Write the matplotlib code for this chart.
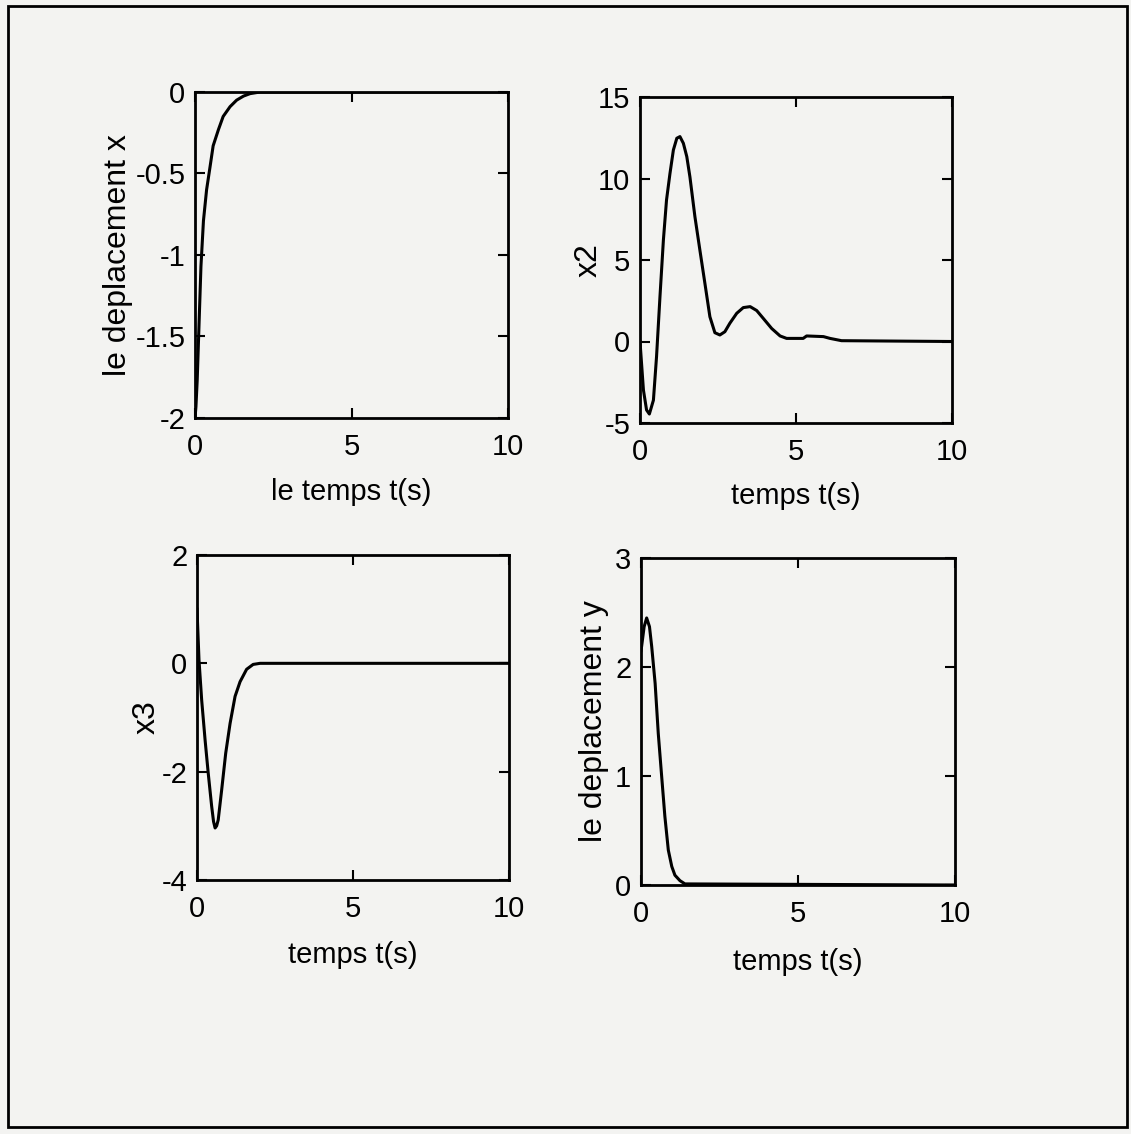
import matplotlib
matplotlib.use("Agg")
import matplotlib.pyplot as plt
import matplotlib.patches as patches

# values (time in s)
t_x = [0, 0.03, 0.07, 0.14, 0.19, 0.27, 0.37, 0.48, 0.58, 0.75, 0.9, 1.12,
       1.33, 1.55, 1.76, 2.08, 10]
x_vals = [-2, -1.93, -1.77, -1.36, -1.07, -0.79, -0.6, -0.46, -0.33, -0.23,
          -0.15, -0.09, -0.05, -0.025, -0.01, 0, 0]

t_x2 = [0, 0.11, 0.21, 0.3, 0.43, 0.53, 0.64, 0.75, 0.85, 0.96, 1.07, 1.18,
        1.28, 1.39, 1.5, 1.6, 1.76, 1.92, 2.08, 2.24, 2.4, 2.56, 2.72, 2.88,
        3.1, 3.31, 3.53, 3.74, 3.95, 4.22, 4.49, 4.7, 5.23, 5.34, 5.88, 6.09,
        6.46, 10]
x2_vals = [0, -2.98, -4.2, -4.45, -3.6, -0.93, 2.75, 6.23, 8.68, 10.3, 11.75,
           12.47, 12.57, 12.16, 11.34, 10.1, 7.66, 5.6, 3.57, 1.52, 0.54, 0.4,
           0.6, 1.12, 1.73, 2.08, 2.14, 1.9, 1.42, 0.8, 0.34, 0.19, 0.19, 0.34,
           0.3, 0.19, 0.05, 0]

t_x3 = [0, 0.064, 0.15, 0.26, 0.36, 0.47, 0.53, 0.58, 0.63, 0.68, 0.79, 0.92,
        1.06, 1.22, 1.38, 1.59, 1.8, 2.02, 10]
x3_vals = [1.0, 0.06, -0.68, -1.42, -2.03, -2.64, -2.92, -3.04, -3.0, -2.89,
           -2.34, -1.66, -1.11, -0.61, -0.34, -0.11, -0.02, 0, 0]

t_y = [0, 0.02, 0.1, 0.18, 0.27, 0.34, 0.45, 0.55, 0.66, 0.76, 0.87, 0.98,
       1.08, 1.24, 1.4, 10]
y_vals = [2.15, 2.19, 2.37, 2.45, 2.37, 2.19, 1.85, 1.39, 0.99, 0.63, 0.32,
          0.17, 0.09, 0.04, 0.01, 0]

xticks = [0, 5, 10]

BG = "#f3f3f1"
plt.rcParams["font.family"] = ["Liberation Sans", "DejaVu Sans"]

TICK_FS = 21
XLAB_FS = 21
YLAB_FS = 23

fig = plt.figure(figsize=(11.31, 11.34), dpi=100, facecolor=BG)
W, H = 1131.0, 1134.0


def make_ax(left, top, right, bottom):
    return fig.add_axes([left / W, 1 - bottom / H, (right - left) / W, (bottom - top) / H])


panels = [
    (make_ax(195, 92, 508, 418), t_x, x_vals, (-2, 0), [-2, -1.5, -1, -0.5, 0],
     ["-2", "-1.5", "-1", "-0.5", "0"], "le temps t(s)", "le deplacement x", -0.245, -0.227),
    (make_ax(640, 97, 952, 423), t_x2, x2_vals, (-5, 15), [-5, 0, 5, 10, 15],
     ["-5", "0", "5", "10", "15"], "temps t(s)", "x2", -0.165, -0.224),
    (make_ax(197, 555, 509, 880), t_x3, x3_vals, (-4, 2), [-4, -2, 0, 2],
     ["-4", "-2", "0", "2"], "temps t(s)", "x3", -0.16, -0.231),
    (make_ax(641, 558, 955, 885), t_y, y_vals, (0, 3), [0, 1, 2, 3],
     ["0", "1", "2", "3"], "temps t(s)", "le deplacement y", -0.15, -0.235),
]

for ax, t, v, ylim, yt, ytl, xl, yl, ylx, xly in panels:
    ax.set_facecolor(BG)
    ax.plot(t, v, color="black", linewidth=2.2, solid_joinstyle="round")
    ax.set_xlim(0, 10)
    ax.set_ylim(*ylim)
    ax.set_xticks(xticks)
    ax.set_xticklabels([str(x) for x in xticks])
    ax.set_yticks(yt)
    ax.set_yticklabels(ytl)
    ax.tick_params(direction="in", top=True, right=True, length=7, width=1.5,
                   labelsize=TICK_FS)
    ax.tick_params(axis="x", pad=11)
    ax.tick_params(axis="y", pad=7)
    for s in ax.spines.values():
        s.set_linewidth(2)
    ax.set_xlabel(xl, fontsize=XLAB_FS, va="center")
    ax.set_ylabel(yl, fontsize=YLAB_FS, va="center")
    ax.xaxis.set_label_coords(0.5, xly)
    ax.yaxis.set_label_coords(ylx, 0.5)

# outer frame round the whole figure
frame = patches.Rectangle((8 / W, 1 - 1127 / H), 1119 / W, 1121 / H,
                          transform=fig.transFigure, fill=False,
                          edgecolor="black", linewidth=2)
fig.patches.append(frame)

fig.savefig("out.png", dpi=100, facecolor=BG)
